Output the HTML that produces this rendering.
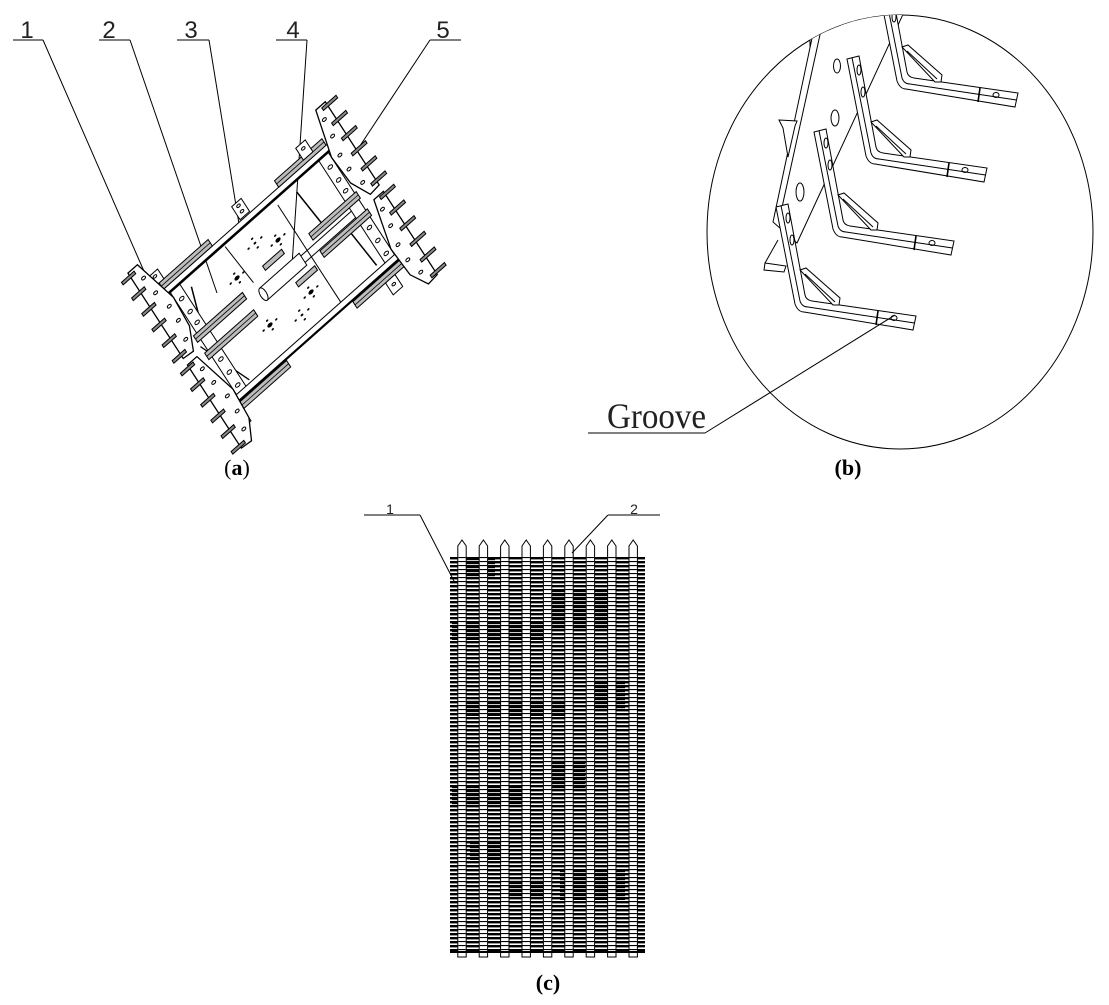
<!DOCTYPE html>
<html><head><meta charset="utf-8"><style>
html,body{margin:0;padding:0;background:#fff;}
svg{display:block;}
.a *{vector-effect:non-scaling-stroke;}
</style></head><body>
<svg width="1109" height="1005" viewBox="0 0 1109 1005" xmlns="http://www.w3.org/2000/svg">
<defs>
  <clipPath id="cb"><ellipse cx="900" cy="232" rx="193" ry="217"/></clipPath>
  <g id="bt">
    <path d="M-22,-103 L-3,-6 Q0,2 6,2 L115,20 L118,6 L14,-9 Q8,-10 7,-15 L-10,-106 Z" fill="#fff"/>
    <path d="M-17,-104.5 L2,-9 Q4,-3 10,-3 L116.5,13" fill="none"/>
    <polygon points="2,-40 8,-42 42,-12 41,-5 35,-5" fill="#fff"/>
    <line x1="7" y1="-36" x2="37" y2="-8"/>
    <line x1="80" y1="1" x2="78" y2="15" stroke-width="1.6"/>
    <ellipse cx="96" cy="8" rx="3" ry="2.5" fill="none"/>
    <ellipse cx="-10" cy="-92" rx="2" ry="5" fill="none"/>
    <ellipse cx="-6" cy="-70" rx="2" ry="5" fill="none"/>
  </g>
  <pattern id="thick" patternUnits="userSpaceOnUse" x="0" y="557" width="10" height="4">
    <rect x="0" y="0" width="10" height="2.4" fill="#000"/>
  </pattern>
  <pattern id="thicker" patternUnits="userSpaceOnUse" x="0" y="557" width="10" height="4">
    <rect x="0" y="0" width="10" height="3.2" fill="#000"/>
  </pattern>
  <pattern id="thin" patternUnits="userSpaceOnUse" x="0" y="557" width="10" height="4">
    <rect x="0" y="0" width="10" height="1.1" fill="#000"/>
  </pattern>
</defs>

<!-- ===== (a) labels / leaders ===== -->
<g font-family="Liberation Sans, DejaVu Sans, sans-serif" font-size="24" fill="#222" text-anchor="middle">
  <text x="27" y="38">1</text>
  <text x="109" y="38">2</text>
  <text x="191" y="38">3</text>
  <text x="293" y="38">4</text>
  <text x="443" y="38">5</text>
</g>
<g stroke="#000" stroke-width="1" fill="none">
  <line x1="13" y1="40" x2="43" y2="40"/><line x1="43" y1="40" x2="150" y2="285"/>
  <line x1="99" y1="40" x2="130" y2="40"/><line x1="130" y1="40" x2="217" y2="293"/>
  <line x1="177" y1="40" x2="209" y2="40"/><line x1="209" y1="40" x2="240" y2="230"/>
  <line x1="276" y1="40" x2="307" y2="40"/><line x1="307" y1="40" x2="292" y2="265"/>
  <line x1="430" y1="40" x2="461" y2="40"/><line x1="430" y1="40" x2="342" y2="173"/>
</g>

<!-- ===== (a) drawing in local coords ===== -->
<g class="a" transform="matrix(1.58,-1.40,0.70,1.08,170,292)" fill="none" stroke="#000" stroke-width="1">
  <line x1="66" y1="5" x2="66" y2="95"/>
  <line x1="10" y1="8" x2="5" y2="31" stroke-width="1.5"/>
  <line x1="-2" y1="48" x2="9" y2="93" stroke-width="1.3"/>
  <line x1="77" y1="7" x2="79" y2="40" stroke-width="1.5"/>
  <line x1="88" y1="58" x2="90" y2="92" stroke-width="1.5"/>
  <line x1="34" y1="2" x2="36" y2="38"/>
  <polygon points="0,0 6,0 6,100 0,100" fill="#fff"/>
  <polygon points="94,0 100,0 100,100 94,100" fill="#fff"/>
  <g>
    <circle cx="3" cy="10" r="1.3"/><circle cx="3" cy="22" r="1.3"/><circle cx="3" cy="32" r="1.3"/>
    <circle cx="3" cy="66" r="1.3"/><circle cx="3" cy="78" r="1.3"/><circle cx="3" cy="90" r="1.3"/>
    <circle cx="97" cy="10" r="1.3"/><circle cx="97" cy="22" r="1.3"/><circle cx="97" cy="32" r="1.3"/>
    <circle cx="97" cy="66" r="1.3"/><circle cx="97" cy="78" r="1.3"/><circle cx="97" cy="90" r="1.3"/>
  </g>
  <polygon points="-3,-5 103,-5 103,0 -3,0" fill="#fff"/>
  <line x1="-3" y1="0" x2="103" y2="0" stroke-width="2.6"/>
  <polygon points="-3,95 103,95 103,100 -3,100" fill="#fff"/>
  <line x1="-3" y1="100" x2="103" y2="100" stroke-width="2.2"/>
  <line x1="60" y1="47" x2="94" y2="47"/>
  <line x1="60" y1="53" x2="94" y2="53"/>
  <polygon points="37,44.5 62,44.5 62,55.5 37,55.5" fill="#fff"/>
  <ellipse cx="37" cy="50" rx="1.6" ry="5.5" fill="#fff"/>
  <polygon points="44,33 56,33 56,37 44,37" fill="#bbb"/>
  <polygon points="53,60 65,60 65,64 53,64" fill="#bbb"/>
  <g fill="#000" stroke="none">
    <circle cx="46.9" cy="15.5" r="0.8"/><circle cx="50.9" cy="15.5" r="0.7"/><circle cx="42.9" cy="15.5" r="0.7"/><circle cx="46.9" cy="19.5" r="0.7"/><circle cx="46.9" cy="11.5" r="0.7"/>
    <circle cx="57" cy="25.7" r="1.5"/><circle cx="61" cy="25.7" r="0.7"/><circle cx="53" cy="25.7" r="0.7"/><circle cx="57" cy="29.7" r="0.7"/><circle cx="57" cy="21.7" r="0.7"/>
    <circle cx="30.6" cy="26.7" r="1.5"/><circle cx="34.6" cy="26.7" r="0.7"/><circle cx="26.6" cy="26.7" r="0.7"/><circle cx="30.6" cy="30.7" r="0.7"/><circle cx="30.6" cy="22.7" r="0.7"/>
    <circle cx="56.7" cy="73.5" r="1.5"/><circle cx="60.7" cy="73.5" r="0.7"/><circle cx="52.7" cy="73.5" r="0.7"/><circle cx="56.7" cy="77.5" r="0.7"/><circle cx="56.7" cy="69.5" r="0.7"/>
    <circle cx="31.6" cy="71.5" r="1.5"/><circle cx="35.6" cy="71.5" r="0.7"/><circle cx="27.6" cy="71.5" r="0.7"/><circle cx="31.6" cy="75.5" r="0.7"/><circle cx="31.6" cy="67.5" r="0.7"/>
    <circle cx="47.1" cy="82.3" r="0.8"/><circle cx="51.1" cy="82.3" r="0.7"/><circle cx="43.1" cy="82.3" r="0.7"/><circle cx="47.1" cy="86.3" r="0.7"/><circle cx="47.1" cy="78.3" r="0.7"/>
  </g>
  <g fill="#bdbdbd">
    <polygon points="-2,-11 29,-11 29,-5 -2,-5"/>
    <polygon points="-2,38 29,38 29,44 -2,44"/>
    <polygon points="-2,54 29,54 29,60 -2,60"/>
    <polygon points="-2,101 29,101 29,107 -2,107"/>
    <polygon points="71,-11 101,-11 101,-5 71,-5"/>
    <polygon points="71,38 101,38 101,44 71,44"/>
    <polygon points="71,54 101,54 101,60 71,60"/>
    <polygon points="71,101 101,101 101,107 71,107"/>
  </g>
  <g stroke-width="0.8">
    <line x1="-2" y1="-8" x2="29" y2="-8"/><line x1="-2" y1="41" x2="29" y2="41"/><line x1="-2" y1="57" x2="29" y2="57"/><line x1="-2" y1="104" x2="29" y2="104"/>
    <line x1="71" y1="-8" x2="101" y2="-8"/><line x1="71" y1="41" x2="101" y2="41"/><line x1="71" y1="57" x2="101" y2="57"/><line x1="71" y1="104" x2="101" y2="104"/>
  </g>
  <g fill="#fff">
    <polygon points="-5,-20 1,-20 1,-11 -5,-11"/>
    <polygon points="47,-18 53,-18 53,-6 47,-6"/>
    <polygon points="88,-19 94,-19 94,-8 88,-8"/>
    <polygon points="89,107 95,107 95,118 89,118"/>
    <polygon points="-7,107 -1,107 -1,118 -7,118"/>
  </g>
  <g>
    <circle cx="-2" cy="-17" r="1"/><circle cx="50" cy="-15" r="1"/><circle cx="50" cy="-10" r="1"/>
    <circle cx="91" cy="-15" r="1"/><circle cx="92" cy="112" r="1"/><circle cx="-4" cy="112" r="1"/>
  </g>
  <g fill="#fff" stroke-width="1.3">
    <polygon points="-12,-33 -6,-33 0,5 -1,30 -6,47 -12,46"/>
    <polygon points="-12,52 -6,52 0,90 -1,115 -6,130 -12,129"/>
    <polygon points="112,-31 106,-31 100,5 101,30 106,47 112,46"/>
    <polygon points="112,52 106,52 100,90 101,115 106,130 112,129"/>
  </g>
  <g>
    <circle cx="-7" cy="-22" r="1.1"/><circle cx="-6" cy="-7" r="1.1"/><circle cx="-4" cy="8" r="1.1"/><circle cx="-4" cy="21" r="1.1"/><circle cx="-6" cy="36" r="1.1"/>
    <circle cx="-7" cy="62" r="1.1"/><circle cx="-6" cy="76" r="1.1"/><circle cx="-4" cy="91" r="1.1"/><circle cx="-4" cy="105" r="1.1"/><circle cx="-6" cy="119" r="1.1"/>
    <circle cx="107" cy="-21" r="1.1"/><circle cx="106" cy="-7" r="1.1"/><circle cx="104" cy="8" r="1.1"/><circle cx="104" cy="21" r="1.1"/><circle cx="106" cy="36" r="1.1"/>
    <circle cx="107" cy="62" r="1.1"/><circle cx="106" cy="76" r="1.1"/><circle cx="104" cy="91" r="1.1"/><circle cx="104" cy="105" r="1.1"/><circle cx="106" cy="119" r="1.1"/>
  </g>
  <!-- teeth (small hatched bars) -->
  <g fill="#888">
    <polygon points="-17,-31 -9,-31 -9,-28.6 -17,-28.6"/>
    <polygon points="-17,-16.5 -9,-16.5 -9,-14.1 -17,-14.1"/>
    <polygon points="-17,-2 -9,-2 -9,0.4 -17,0.4"/>
    <polygon points="-17,12.5 -9,12.5 -9,14.9 -17,14.9"/>
    <polygon points="-17,27 -9,27 -9,29.4 -17,29.4"/>
    <polygon points="-17,41.5 -9,41.5 -9,43.9 -17,43.9"/>
    <polygon points="-17,53.2 -9,53.2 -9,55.6 -17,55.6"/>
    <polygon points="-17,67.7 -9,67.7 -9,70.1 -17,70.1"/>
    <polygon points="-17,82.2 -9,82.2 -9,84.6 -17,84.6"/>
    <polygon points="-17,96.7 -9,96.7 -9,99.1 -17,99.1"/>
    <polygon points="-17,111.2 -9,111.2 -9,113.6 -17,113.6"/>
    <polygon points="-17,125.7 -9,125.7 -9,128.1 -17,128.1"/>
    <polygon points="109,-29.2 118,-29.2 118,-26.8 109,-26.8"/>
    <polygon points="109,-15.2 118,-15.2 118,-12.8 109,-12.8"/>
    <polygon points="109,-1.2 118,-1.2 118,1.2 109,1.2"/>
    <polygon points="109,12.8 118,12.8 118,15.2 109,15.2"/>
    <polygon points="109,26.8 118,26.8 118,29.2 109,29.2"/>
    <polygon points="109,40.8 118,40.8 118,43.2 109,43.2"/>
    <polygon points="109,53.2 118,53.2 118,55.6 109,55.6"/>
    <polygon points="109,67.7 118,67.7 118,70.1 109,70.1"/>
    <polygon points="109,82.2 118,82.2 118,84.6 109,84.6"/>
    <polygon points="109,96.7 118,96.7 118,99.1 109,99.1"/>
    <polygon points="109,111.2 118,111.2 118,113.6 109,113.6"/>
    <polygon points="109,125.7 118,125.7 118,128.1 109,128.1"/>
  </g>
</g>

<text x="237" y="475" font-family="Liberation Serif, serif" font-size="22" text-anchor="middle" fill="#000">(<tspan font-weight="bold">a</tspan>)</text>

<!-- ===== (b) ===== -->
<ellipse cx="900" cy="232" rx="193" ry="217" fill="none" stroke="#000" stroke-width="1"/>
<g clip-path="url(#cb)" stroke="#000" stroke-width="1" fill="#fff">
  <polygon points="810,38 828,38 828,53 810,53"/>
  <polygon points="840,20 862,20 864,57 845,57"/>
  <polygon points="818,10 905,10 797,243 773,222"/>
  <line x1="825" y1="12" x2="779" y2="221"/>
  <ellipse cx="837" cy="66" rx="3.5" ry="7" fill="none"/>
  <ellipse cx="835" cy="118" rx="4" ry="8" fill="none"/>
  <ellipse cx="800" cy="192" rx="4" ry="9" fill="none"/>
  <polygon points="779,120 797,121 795,126 788,157 783,128"/>
  <polygon points="765,263 786,266 784,272 764,270"/>
  <line x1="765" y1="263" x2="778" y2="240"/>
  <use href="#bt" transform="translate(900,87)"/>
  <use href="#bt" transform="translate(869,162)"/>
  <use href="#bt" transform="translate(836,235)"/>
  <use href="#bt" transform="translate(798,310)"/>
</g>
<g stroke="#000" stroke-width="1" fill="none">
  <line x1="588" y1="433" x2="705" y2="433"/>
  <line x1="705" y1="433" x2="895" y2="315"/>
</g>
<text x="607" y="428" font-family="Liberation Serif, serif" font-size="36" textLength="99" lengthAdjust="spacingAndGlyphs" fill="#222">Groove</text>
<text x="848" y="475" font-family="Liberation Serif, serif" font-size="22" font-weight="bold" text-anchor="middle" fill="#000">(b)</text>

<!-- ===== (c) ===== -->
<rect x="450" y="557" width="195" height="396" fill="url(#thick)"/>
<g fill="url(#thicker)">
  <rect x="465" y="557" width="30" height="22"/>
  <rect x="550" y="590" width="60" height="40"/>
  <rect x="452" y="622" width="95" height="18"/>
  <rect x="465" y="700" width="100" height="16"/>
  <rect x="545" y="760" width="40" height="30"/>
  <rect x="452" y="785" width="75" height="22"/>
  <rect x="560" y="870" width="65" height="30"/>
  <rect x="500" y="880" width="45" height="18"/>
  <rect x="470" y="840" width="40" height="20"/>
  <rect x="590" y="680" width="35" height="30"/>
</g>
<g stroke="#000" stroke-width="1" fill="#fff">
  <polygon points="457.8,957 457.8,546 462,540 466.2,546 466.2,957"/>
  <polygon points="479.2,957 479.2,546 483.4,540 487.6,546 487.6,957"/>
  <polygon points="500.6,957 500.6,546 504.8,540 509,546 509,957"/>
  <polygon points="522,957 522,546 526.2,540 530.4,546 530.4,957"/>
  <polygon points="543.4,957 543.4,546 547.6,540 551.8,546 551.8,957"/>
  <polygon points="564.8,957 564.8,546 569,540 573.2,546 573.2,957"/>
  <polygon points="586.2,957 586.2,546 590.4,540 594.6,546 594.6,957"/>
  <polygon points="607.6,957 607.6,546 611.8,540 616,546 616,957"/>
  <polygon points="629,957 629,546 633.2,540 637.4,546 637.4,957"/>
</g>
<g fill="url(#thin)">
  <rect x="458.3" y="557" width="7.4" height="394"/>
  <rect x="479.7" y="557" width="7.4" height="394"/>
  <rect x="501.1" y="557" width="7.4" height="394"/>
  <rect x="522.5" y="557" width="7.4" height="394"/>
  <rect x="543.9" y="557" width="7.4" height="394"/>
  <rect x="565.3" y="557" width="7.4" height="394"/>
  <rect x="586.7" y="557" width="7.4" height="394"/>
  <rect x="608.1" y="557" width="7.4" height="394"/>
  <rect x="629.5" y="557" width="7.4" height="394"/>
</g>
<rect x="450" y="951" width="195" height="2" fill="#000"/>
<g stroke="#000" stroke-width="1" fill="none">
  <line x1="364" y1="515" x2="420" y2="515"/><line x1="420" y1="515" x2="455" y2="583"/>
  <line x1="608" y1="515" x2="660" y2="515"/><line x1="608" y1="515" x2="572" y2="553"/>
</g>
<g font-family="Liberation Sans, sans-serif" font-size="14" fill="#222" text-anchor="middle">
  <text x="390" y="514">1</text>
  <text x="634" y="514">2</text>
</g>
<text x="548" y="990" font-family="Liberation Serif, serif" font-size="22" font-weight="bold" text-anchor="middle" fill="#000">(c)</text>
</svg>
</body></html>
